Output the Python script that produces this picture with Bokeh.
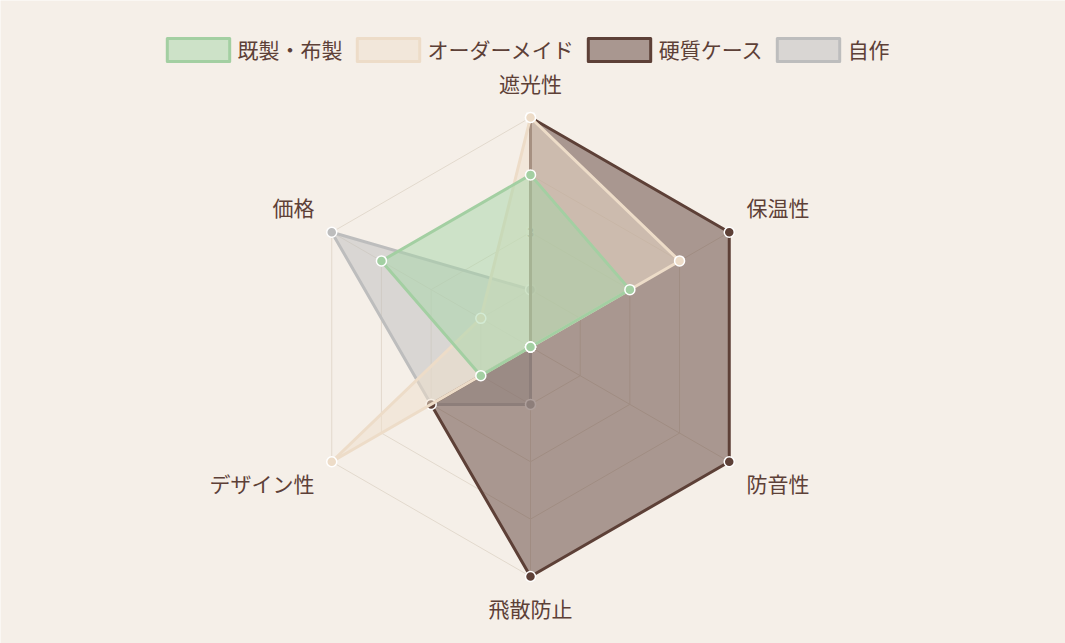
import math
from bokeh.plotting import figure
from bokeh.models import Legend, LegendItem, ColumnDataSource
from bokeh.core.properties import value
from bokeh.embed import file_html
from bokeh.resources import INLINE

# ---- data ----
axes_labels = ["遮光性", "保温性", "防音性", "飛散防止", "デザイン性", "価格"]
series_names = ["既製・布製", "オーダーメイド", "硬質ケース", "自作"]
kisei = [4, 3, 1, 1, 2, 4]
order = [5, 4, 1, 1, 5, 2]
hard = [5, 5, 5, 5, 3, 1]
jisaku = [2, 1, 1, 2, 3, 5]
scale_min = 1
scale_max = 5
tick_values = [1, 2, 3, 4, 5]

# ---- styles ----
BG = "#f5efe8"
line_colors = ["#a3cfa2", "#eddcc8", "#5d4037", "#bdbdbd"]
fill_colors = ["#a5d6a7", "#efdfcb", "#5d4037", "#bdbdbd"]
TEXT = "#5d4037"
GRID = "#e2d9cd"
FONT = "Noto Sans CJK JP"

W, H = 1065, 643
CX, CY = 530, 346.5          # centre in canvas pixels (from top-left)
S = 57.375                   # pixels per value unit

p = figure(width=W, height=H, output_backend="svg", toolbar_location=None,
           x_range=(-CX / S, (W - CX) / S), y_range=(-(H - CY) / S, CY / S),
           min_border=0, background_fill_color=BG, border_fill_color=BG)
p.axis.visible = False
p.grid.visible = False
p.outline_line_color = None

n = len(axes_labels)
angles = [math.pi / 2 - i * 2 * math.pi / n for i in range(n)]

def to_xy(vals):
    xs = [(v - scale_min) * math.cos(a) for v, a in zip(vals, angles)]
    ys = [(v - scale_min) * math.sin(a) for v, a in zip(vals, angles)]
    return xs, ys

# grid rings
for t in tick_values[1:]:
    xs, ys = to_xy([t] * n)
    p.patch(xs + [xs[0]], ys + [ys[0]], fill_alpha=0, line_color=GRID, line_width=1)
# radial lines
rmax = scale_max - scale_min
for a in angles:
    p.line([0, rmax * math.cos(a)], [0, rmax * math.sin(a)], line_color=GRID, line_width=1)

# tick labels (skip the minimum)
tk = [t for t in tick_values if t != scale_min]
p.text(x=[0] * len(tk), y=[t - scale_min for t in tk], text=[str(t) for t in tk],
       text_align="center", text_baseline="middle", text_font=value(FONT),
       text_font_size="12px", text_color="#555555",
       background_fill_color="#f8f5f1", background_fill_alpha=0.75, padding=1)

# datasets: first dataset drawn on top
data = [kisei, order, hard, jisaku]
renderers = [None] * 4
for i in reversed(range(4)):
    xs, ys = to_xy(data[i])
    r = p.patch(xs, ys, fill_color=fill_colors[i], fill_alpha=0.5,
                line_color=line_colors[i], line_width=3, line_join="round")
    renderers[i] = r
    p.scatter(xs, ys, size=10, fill_color=line_colors[i], line_color="white", line_width=1.5)

# axis point labels
pad = 20 / S
lx, ly, la, lb = [], [], [], []
for a in angles:
    c, s_ = math.cos(a), math.sin(a)
    lx.append((rmax + pad) * c)
    yy = (rmax + pad) * s_
    if s_ < 0:
        yy += 4 / S
    ly.append(yy)
    if abs(c) < 1e-6:
        la.append("center")
        lb.append("bottom" if s_ > 0 else "top")
    else:
        la.append("left" if c > 0 else "right")
        lb.append("bottom" if s_ > 0 else "top")
src = ColumnDataSource(dict(x=lx, y=ly, t=axes_labels, a=la, b=lb))
p.text(x="x", y="y", text="t", text_align="a", text_baseline="b", source=src,
       text_font=value(FONT), text_font_size="21px", text_color=TEXT)

legend = Legend(items=[LegendItem(label=series_names[i], renderers=[renderers[i]]) for i in range(4)],
                orientation="horizontal", location="top_center",
                glyph_width=78, glyph_height=29, label_text_font_size="21px",
                label_text_font=FONT, label_text_color=TEXT, label_standoff=1,
                spacing=6, padding=0, margin=35, border_line_alpha=0,
                background_fill_alpha=0)
legend.margin = 35
p.add_layout(legend, "center")
legend.location = ((W - 730) / 2 - 9, H - 35 - 29)

open("out.html", "w").write(file_html(p, INLINE))
